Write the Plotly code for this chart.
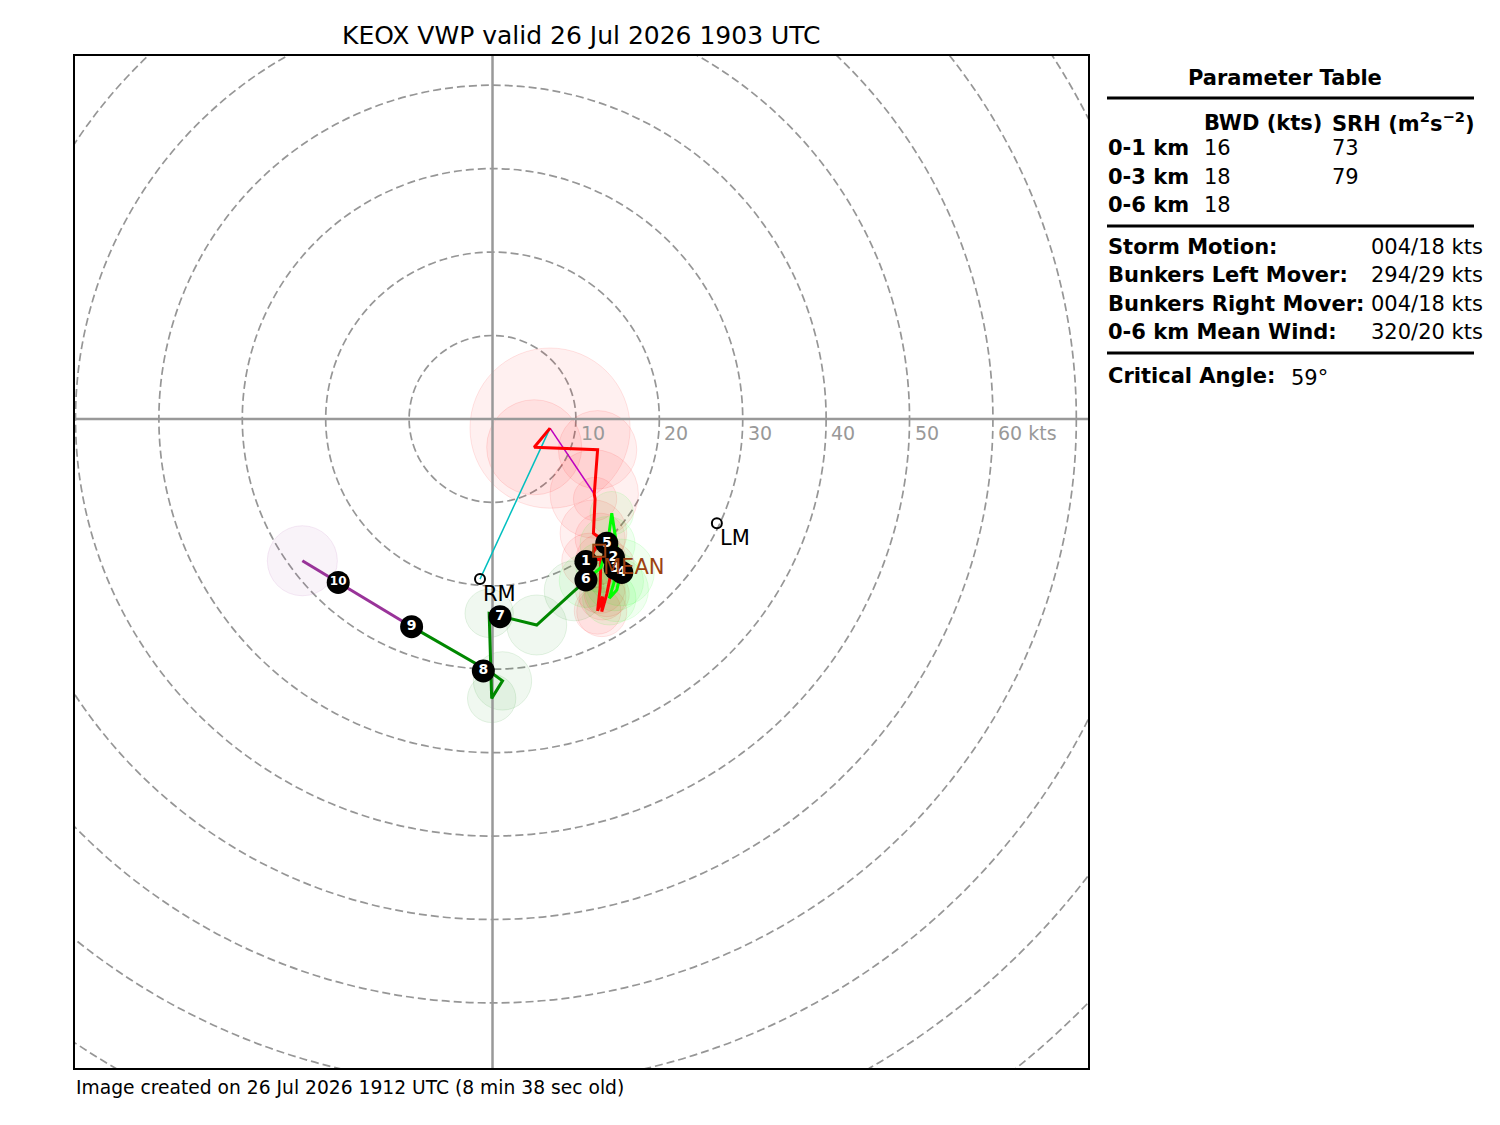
import plotly.graph_objects as go

# ---------------- data (knots) ----------------
# 0-3 km segment (red)
red_u = [6.9, 5.0, 12.6, 12.2, 12.3, 12.1, 12.9, 11.6, 13.0, 12.9, 12.6, 13.2, 13.1, 13.7, 14.4]
red_v = [-1.1, -3.4, -3.7, -9.0, -9.6, -13.7, -14.3, -17.0, -16.8, -20.3, -23.0, -21.3, -23.1, -21.0, -17.5]
red_rms = [9.6, 5.7, 4.7, 5.3, 2.6, 4.0, 3.0, 3.3, 3.0, 3.0, 2.8, 2.8, 3.0, 2.7, 2.6]

# 3-6 km segment (lime)
lime_u = [14.4, 14.6, 14.0, 14.9, 15.4, 14.3, 13.8, 13.0, 11.2]
lime_v = [-17.5, -19.5, -21.5, -20.5, -18.4, -11.3, -15.0, -17.8, -19.4]
lime_rms = [0, 3.5, 3.2, 3.8, 4.0, 2.6, 3.3, 3.0, 3.2]

# 6-9 km segment (dark green)
dgreen_u = [11.2, 9.8, 5.3, -0.4, -0.1, 1.2, -0.3, -9.7]
dgreen_v = [-19.4, -20.6, -24.7, -23.3, -33.5, -31.4, -30.3, -24.9]
dgreen_rms = [0, 3.6, 3.6, 2.9, 2.9, 3.5, 0, 0]

# 9-12 km segment (purple)
purple_u = [-9.7, -22.8]
purple_v = [-24.9, -17.0]
purple_rms = [0, 4.2]

# height markers (km)
hgt_labels = ["1", "2", "3", "4", "5", "6", "7", "8", "9", "10"]
hgt_u = [11.2, 14.5, 14.7, 15.5, 13.7, 11.2, 0.9, -1.1, -9.7, -18.5]
hgt_v = [-17.1, -16.6, -17.9, -18.4, -14.9, -19.3, -23.7, -30.2, -24.9, -19.6]

# storm motions
rm_uv = (-1.5, -19.2)
lm_uv = (26.9, -12.5)
mean_uv = (12.8, -15.8)
sfc_uv = (6.9, -1.1)
u500_uv = (12.2, -9.0)

ring_speeds = [10, 20, 30, 40, 50, 60, 70, 80, 90, 100, 110]
ring_labels = ["10", "20", "30", "40", "50", "60 kts"]

title_text = "KEOX VWP valid 26 Jul 2026 1903 UTC"
footer_text = "Image created on 26 Jul 2026 1912 UTC (8 min 38 sec old)"

table_rows_shear = [("0-1 km", "16", "73"), ("0-3 km", "18", "79"), ("0-6 km", "18", "")]
table_rows_motion = [("Storm Motion:", "004/18 kts"), ("Bunkers Left Mover:", "294/29 kts"),
                     ("Bunkers Right Mover:", "004/18 kts"), ("0-6 km Mean Wind:", "320/20 kts")]
critical_angle = "59°"

# ---------------- figure ----------------
W, H = 1500, 1125
AX_L, AX_R, AX_T, AX_B = 75, 1088, 56, 1068
XR = [-50.06, 71.4]
YR = [-77.8, 43.5]
FONT = "DejaVu Sans"

def px(x):
    return (x - AX_L) / (AX_R - AX_L)

def py(y):
    return (AX_B - y) / (AX_B - AX_T)

fig = go.Figure()
shapes = []
annotations = []

# range rings
for r in ring_speeds:
    shapes.append(dict(type="circle", xref="x", yref="y", x0=-r, x1=r, y0=-r, y1=r,
                       line=dict(color="rgb(150,150,150)", width=1.7, dash="8px,4px"), layer="below"))

# uncertainty circles
def add_circles(us, vs, rms, rgb):
    for u, v, r in zip(us, vs, rms):
        if r <= 0:
            continue
        shapes.append(dict(type="circle", xref="x", yref="y", x0=u - r, x1=u + r, y0=v - r, y1=v + r,
                           fillcolor=f"rgba({rgb},0.06)", line=dict(color=f"rgba({rgb},0.10)", width=1),
                           layer="below"))

add_circles(red_u, red_v, red_rms, "255,0,0")
add_circles(lime_u, lime_v, lime_rms, "0,255,0")
add_circles(dgreen_u, dgreen_v, dgreen_rms, "0,136,0")
add_circles(purple_u, purple_v, purple_rms, "153,51,153")

# axes lines through origin
shapes.append(dict(type="line", xref="x", yref="y", x0=XR[0], x1=XR[1], y0=0, y1=0,
                   line=dict(color="rgb(153,153,153)", width=2.5), layer="below"))
shapes.append(dict(type="line", xref="x", yref="y", x0=0, x1=0, y0=YR[0], y1=YR[1],
                   line=dict(color="rgb(153,153,153)", width=2.5), layer="below"))

# ring labels
for r, lab in zip(ring_speeds, ring_labels):
    annotations.append(dict(x=r, y=0, xref="x", yref="y", text=lab, showarrow=False,
                            xanchor="left", yanchor="top", xshift=3, yshift=-1,
                            font=dict(family=FONT, size=19, color="rgb(153,153,153)")))

# critical angle lines
fig.add_trace(go.Scatter(x=[sfc_uv[0], rm_uv[0]], y=[sfc_uv[1], rm_uv[1]], mode="lines",
                         line=dict(color="#00bfbf", width=1.5), hoverinfo="skip"))
fig.add_trace(go.Scatter(x=[sfc_uv[0], u500_uv[0]], y=[sfc_uv[1], u500_uv[1]], mode="lines",
                         line=dict(color="#bf00bf", width=1.5), hoverinfo="skip"))

# hodograph segments
for us, vs, col in [(red_u, red_v, "#ff0000"), (lime_u, lime_v, "#00ff00"),
                    (dgreen_u, dgreen_v, "#008800"), (purple_u, purple_v, "#993399")]:
    fig.add_trace(go.Scatter(x=us, y=vs, mode="lines", line=dict(color=col, width=3),
                             hoverinfo="skip"))

# RM / LM markers
fig.add_trace(go.Scatter(x=[rm_uv[0], lm_uv[0]], y=[rm_uv[1], lm_uv[1]], mode="markers",
                         marker=dict(symbol="circle-open", size=10, color="black", line=dict(width=2)),
                         hoverinfo="skip"))
for uv, lab in [(rm_uv, "RM"), (lm_uv, "LM")]:
    annotations.append(dict(x=uv[0], y=uv[1], xref="x", yref="y", text=lab, showarrow=False,
                            xanchor="left", yanchor="top", xshift=1, yshift=-1,
                            font=dict(family=FONT, size=21, color="black")))

# height markers
fig.add_trace(go.Scatter(x=hgt_u, y=hgt_v, mode="markers+text", text=hgt_labels,
                         textposition="middle center",
                         textfont=dict(family=FONT, size=[14] * 9 + [12], color="white", weight="bold"),
                         marker=dict(size=23, color="black"), hoverinfo="skip"))

# mean wind
fig.add_trace(go.Scatter(x=[mean_uv[0]], y=[mean_uv[1]], mode="markers",
                         marker=dict(symbol="square-open", size=12, color="#9c4212", line=dict(width=2)),
                         hoverinfo="skip"))
annotations.append(dict(x=mean_uv[0], y=mean_uv[1], xref="x", yref="y", text="MEAN", showarrow=False,
                        xanchor="left", yanchor="top", xshift=2, yshift=-2,
                        font=dict(family=FONT, size=21, color="#9c4212")))

# title and footer
annotations.append(dict(x=px(581.5), y=py(36), xref="paper", yref="paper", text=title_text,
                        showarrow=False, xanchor="center", yanchor="middle",
                        font=dict(family=FONT, size=25, color="black")))
annotations.append(dict(x=px(74), y=py(1087), xref="paper", yref="paper", text=footer_text,
                        showarrow=False, xanchor="left", yanchor="middle",
                        font=dict(family=FONT, size=18.7, color="black")))

# parameter table
TF = dict(family=FONT, size=21, color="black")
def txt(x, y, s, anchor="left", bold=False):
    annotations.append(dict(x=px(x), y=py(y), xref="paper", yref="paper",
                            text=(f"<b>{s}</b>" if bold else s), showarrow=False,
                            xanchor=anchor, yanchor="middle", font=TF))

def hline(y):
    shapes.append(dict(type="line", xref="paper", yref="paper", x0=px(1107), x1=px(1474),
                       y0=py(y), y1=py(y), line=dict(color="black", width=3)))

txt(1285, 78, "Parameter Table", anchor="center", bold=True)
hline(98)
txt(1202, 123, "BWD (kts)", bold=True)
txt(1330, 122, "SRH (m<sup>2</sup>s<sup>−2</sup>)", bold=True)
for i, (lab, bwd, srh) in enumerate(table_rows_shear):
    yy = 148 + i * 28.5
    txt(1106, yy, lab, bold=True)
    txt(1202, yy, bwd)
    if srh:
        txt(1330, yy, srh)
hline(226)
for i, (lab, val) in enumerate(table_rows_motion):
    yy = 247 + i * 28.3
    txt(1106, yy, lab, bold=True)
    txt(1369, yy, val)
hline(353)
txt(1106, 376, "Critical Angle:", bold=True)
txt(1289, 378, critical_angle)

fig.update_layout(
    width=W, height=H,
    margin=dict(l=AX_L, r=W - AX_R, t=AX_T, b=H - AX_B, pad=0),
    paper_bgcolor="white", plot_bgcolor="white",
    showlegend=False,
    shapes=shapes, annotations=annotations,
    xaxis=dict(range=XR, showgrid=False, zeroline=False, showticklabels=False, ticks="",
               showline=True, mirror=True, linecolor="black", linewidth=1.5, fixedrange=True),
    yaxis=dict(range=YR, showgrid=False, zeroline=False, showticklabels=False, ticks="",
               showline=True, mirror=True, linecolor="black", linewidth=1.5, fixedrange=True),
)

fig.write_html("out.html", config={"displayModeBar": False},
               post_script="document.body.style.margin='0';")
